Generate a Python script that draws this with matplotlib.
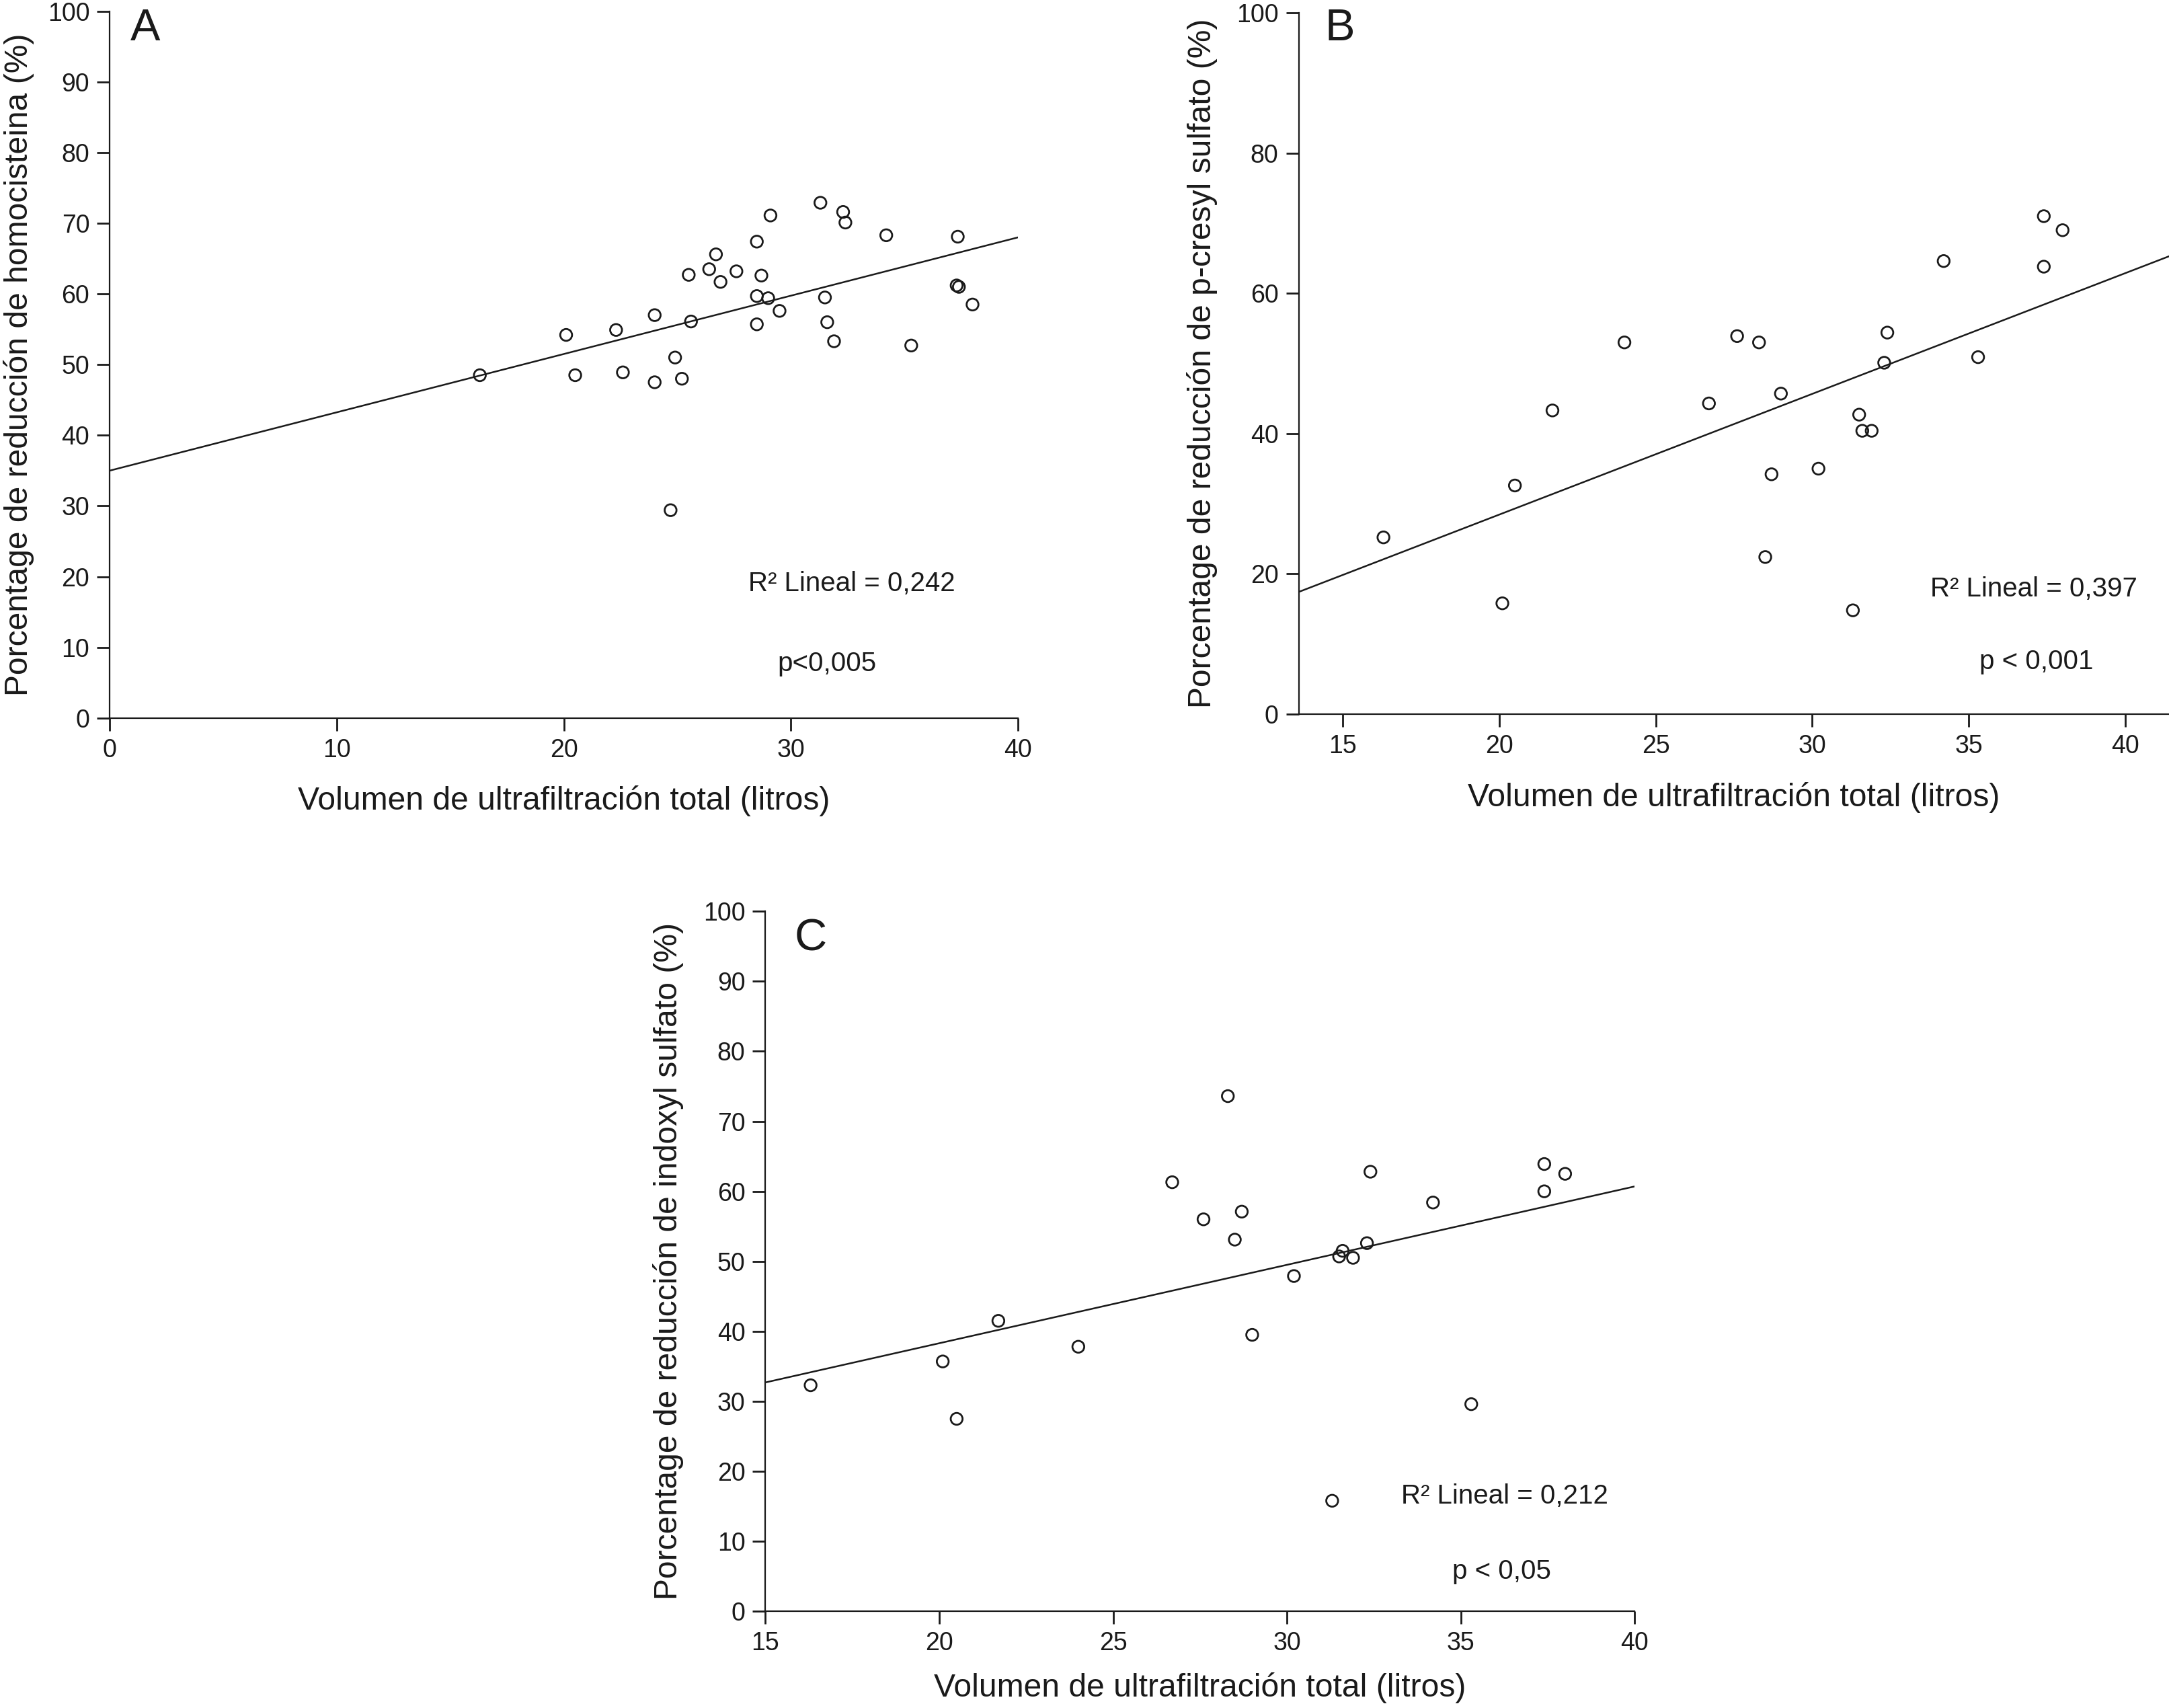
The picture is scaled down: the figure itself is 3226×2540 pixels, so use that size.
import matplotlib
matplotlib.use("Agg")
import matplotlib.pyplot as plt
import numpy as np

plt.rcParams['font.family'] = ['Liberation Sans', 'DejaVu Sans']

# ---------------- data ----------------
# Panel A: homocisteina
a_x = [16.3, 20.1, 20.5, 22.3, 22.6, 24.0, 24.0, 24.9, 25.2, 24.7, 25.5, 25.6, 26.4,
       26.7, 26.9, 27.6, 28.5, 28.5, 28.5, 28.7, 29.0, 29.1, 29.5, 31.3, 31.5, 31.6,
       31.9, 32.3, 32.4, 34.2, 35.3, 37.35, 37.3, 37.4, 38.0]
a_y = [48.5, 54.2, 48.5, 54.9, 48.9, 57.0, 47.5, 51.0, 48.0, 29.4, 62.7, 56.1, 63.5,
       65.6, 61.7, 63.2, 67.4, 59.7, 55.7, 62.6, 59.4, 71.1, 57.6, 72.9, 59.5, 56.0,
       53.3, 71.6, 70.1, 68.3, 52.7, 68.1, 61.2, 61.0, 58.5]
a_fit = (35.0, 0.825)  # intercept, slope

# Panel B: p-cresyl sulfato
b_x = [16.3, 20.1, 20.5, 21.7, 24.0, 26.7, 27.6, 28.3, 28.5, 28.7, 29.0, 30.2,
       31.3, 31.5, 31.6, 31.9, 32.3, 32.4, 34.2, 35.3, 37.4, 37.4, 38.0]
b_y = [25.2, 15.8, 32.6, 43.3, 53.0, 44.3, 53.9, 53.0, 22.4, 34.2, 45.7, 35.0,
       14.8, 42.7, 40.4, 40.4, 50.1, 54.4, 64.6, 50.9, 71.0, 63.8, 69.0]
b_fit = (-5.97, 1.721)

# Panel C: indoxyl sulfato
c_x = [16.3, 20.1, 20.5, 21.7, 24.0, 26.7, 27.6, 28.3, 28.5, 28.7, 29.0, 30.2,
       31.3, 31.5, 31.6, 31.9, 32.3, 32.4, 34.2, 35.3, 37.4, 37.4, 38.0]
c_y = [32.3, 35.7, 27.5, 41.5, 37.8, 61.3, 56.0, 73.6, 53.1, 57.1, 39.5, 47.9,
       15.8, 50.7, 51.5, 50.5, 52.6, 62.8, 58.4, 29.6, 63.9, 60.0, 62.5]
c_fit = (15.9, 1.12)

xlabel = "Volumen de ultrafiltración total (litros)"
ylabels = ["Porcentage de reducción de homocisteina (%)",
           "Porcentage de reducción de p-cresyl sulfato (%)",
           "Porcentage de reducción de indoxyl sulfato (%)"]
letters = ["A", "B", "C"]
r2_texts = ["R\u00b2 Lineal = 0,242", "R\u00b2 Lineal = 0,397", "R\u00b2 Lineal = 0,212"]
p_texts = ["p<0,005", "p < 0,001", "p < 0,05"]

# ---------------- figure ----------------
W, H, DPI = 3226, 2540, 200
fig = plt.figure(figsize=(W / DPI, H / DPI), dpi=DPI)

def px_axes(l, r, b, t):
    return fig.add_axes([l / W, 1 - b / H, (r - l) / W, (b - t) / H])

axA = px_axes(163.3, 1514, 1067.7, 16.7)
axB = px_axes(1931.5, 3226, 1062, 19)
axC = px_axes(1138.4, 2431.3, 2396.3, 1355.2)

panels = [
    (axA, a_x, a_y, a_fit, (0, 40), [0, 10, 20, 30, 40], np.arange(0, 101, 10),
     (32.68, 19.0), (31.6, 7.7), 12.5, 7.0, (194, 60)),
    (axB, b_x, b_y, b_fit, (13.59, 41.40), [15, 20, 25, 30, 35, 40], np.arange(0, 101, 20),
     (37.07, 17.8), (37.17, 7.5), 12.5, 10.0, (1970, 60)),
    (axC, c_x, c_y, c_fit, (15, 40), [15, 20, 25, 30, 35, 40], np.arange(0, 101, 10),
     (36.27, 16.5), (36.18, 5.7), 9.0, 10.5, (1182, 1413)),
]

for i, (ax, xs, ys, fit, xlim, xt, yt, r2pos, ppos, xlp, ylp, lpos) in enumerate(panels):
    ax.set_xlim(*xlim)
    ax.set_ylim(0, 100)
    ax.scatter(xs, ys, s=40, facecolors='none', edgecolors='#1a1a1a', linewidths=1.0,
               zorder=3, clip_on=False)
    lx = np.array(xlim)
    ax.plot(lx, fit[0] + fit[1] * lx, color='#1a1a1a', lw=0.9, zorder=2)
    ax.set_xticks(xt)
    ax.set_yticks(yt)
    for s in ['top', 'right']:
        ax.spines[s].set_visible(False)
    for s in ['left', 'bottom']:
        ax.spines[s].set_linewidth(0.8)
        ax.spines[s].set_color('#1a1a1a')
    ax.tick_params(direction='out', length=6.8, width=1.0, pad=4.0,
                   labelsize=13.5, colors='#1a1a1a')
    ax.set_xlabel(xlabel, fontsize=17.3, color='#1a1a1a', labelpad=xlp)
    ax.set_ylabel(ylabels[i], fontsize=17.3, color='#1a1a1a', labelpad=ylp)
    fig.text(lpos[0] / W, 1 - lpos[1] / H, letters[i], fontsize=24,
             ha='left', va='baseline', color='#1a1a1a')
    ax.text(r2pos[0], r2pos[1], r2_texts[i], fontsize=14.5, ha='center', va='center',
            color='#1a1a1a')
    ax.text(ppos[0], ppos[1], p_texts[i], fontsize=14.5, ha='center', va='center',
            color='#1a1a1a')

fig.savefig("out.png", dpi=DPI)
